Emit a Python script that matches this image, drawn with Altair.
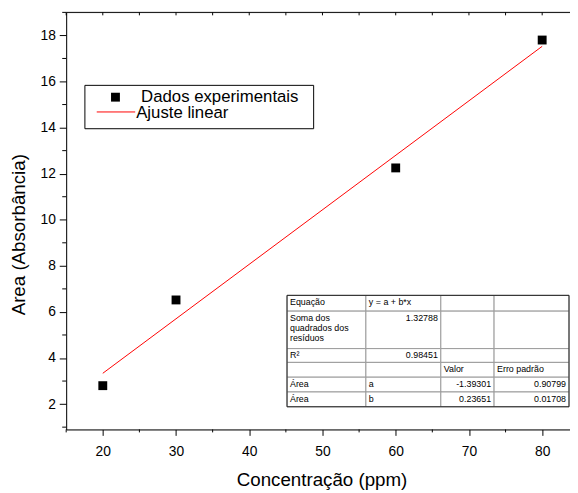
import altair as alt
import pandas as pd

# ---------------- data ----------------
conc = [20, 30, 60, 80]
area = [2.8, 6.52, 12.25, 17.8]
fit_a = -1.39301
fit_b = 0.23651

x_major = [20, 30, 40, 50, 60, 70, 80]
x_minor = [15, 25, 35, 45, 55, 65, 75]
y_major = [2, 4, 6, 8, 10, 12, 14, 16, 18]
y_minor = [1, 3, 5, 7, 9, 11, 13, 15, 17, 19]

legend_labels = ["Dados experimentais", "Ajuste linear"]

table_rows = [
    ["Equação", "y = a + b*x", "", ""],
    ["Soma dos\nquadrados dos\nresíduos", "1.32788", "", ""],
    ["R²", "0.98451", "", ""],
    ["", "", "Valor", "Erro padrão"],
    ["Área", "a", "-1.39301", "0.90799"],
    ["Área", "b", "0.23651", "0.01708"],
]

# ---------------- layout ----------------
W, H = 511, 423
X0, Y0 = 67, 9            # plot-area origin in page pixels
FONT = "Liberation Sans"

col_edges = [291, 371, 447, 501, 577]
row_edges = [296, 312, 350, 364, 379, 394, 409]

one = pd.DataFrame({"k": [0]})


def is_num(s):
    try:
        float(s)
        return True
    except ValueError:
        return False


table_layers = []
for r, row in enumerate(table_rows):
    for c, txt in enumerate(row):
        x0, x1 = col_edges[c] - X0, col_edges[c + 1] - X0
        y0, y1 = row_edges[r] - Y0, row_edges[r + 1] - Y0
        table_layers.append(
            alt.Chart(one).mark_rect(fill="white", stroke="#9a9a9a", strokeWidth=1).encode(
                x=alt.value(x0), x2=alt.value(x1), y=alt.value(y0), y2=alt.value(y1)
            )
        )
outer = alt.Chart(one).mark_rect(fill="transparent", stroke="#222222", strokeWidth=1).encode(
    x=alt.value(col_edges[0] - X0), x2=alt.value(col_edges[-1] - X0),
    y=alt.value(row_edges[0] - Y0), y2=alt.value(row_edges[-1] - Y0),
)
table_layers.append(outer)
for r, row in enumerate(table_rows):
    for c, txt in enumerate(row):
        if not txt:
            continue
        x0, x1 = col_edges[c] - X0, col_edges[c + 1] - X0
        y0 = row_edges[r] - Y0
        num = is_num(txt)
        for i, ln in enumerate(txt.split("\n")):
            table_layers.append(
                alt.Chart(one).mark_text(
                    text=ln, align="right" if num else "left", baseline="top",
                    fontSize=9, font=FONT, color="black",
                ).encode(
                    x=alt.value((x1 - 3) if num else (x0 + 3)),
                    y=alt.value(y0 + 3 + 10 * i),
                )
            )

pts = pd.DataFrame({"conc": conc, "area": area})
fit_df = pd.DataFrame({"conc": [min(conc), max(conc)]})

xscale = alt.Scale(domain=[15, 83.8], nice=False, zero=False)
yscale = alt.Scale(domain=[0.9, 19.0], nice=False, zero=False)

common = dict(
    grid=False, labelFlush=False, labelOverlap=False,
    labelFontSize=14, titleFontSize=19, titleFontWeight="normal",
    labelFont=FONT, titleFont=FONT,
    domainColor="black", tickColor="black", labelColor="black", titleColor="black",
)
x_axis = alt.Axis(
    values=x_major, title="Concentração (ppm)", tickSize=6,
    labelPadding=9, titlePadding=13, titleX=259, **common,
)
y_axis = alt.Axis(
    values=y_major, title="Area (Absorbância)", tickSize=7,
    labelPadding=4, titlePadding=12, titleY=225, **common,
)

X = alt.X("conc:Q", scale=xscale, axis=x_axis)
Y = alt.Y("area:Q", scale=yscale, axis=y_axis)

points = alt.Chart(pts).mark_square(size=81, color="black", opacity=1).encode(x=X, y=Y)

fit = alt.Chart(fit_df).transform_calculate(
    area=f"{fit_a} + {fit_b} * datum.conc"
).mark_line(color="red", strokeWidth=1).encode(x=X, y=Y)

# minor ticks and top-frame ticks
x_minor_ticks = alt.Chart(pd.DataFrame({"conc": x_minor})).mark_rule(
    color="black", strokeWidth=1
).encode(x=X, y=alt.value(H), y2=alt.value(H + 3))
y_minor_ticks = alt.Chart(pd.DataFrame({"area": y_minor})).mark_rule(
    color="black", strokeWidth=1
).encode(y=Y, x=alt.value(-4), x2=alt.value(0))
top_border = alt.Chart(one).mark_rule(color="black", strokeWidth=1).encode(
    x=alt.value(0), x2=alt.value(W), y=alt.value(0)
)
top_ticks = alt.Chart(pd.DataFrame({"conc": x_major + x_minor})).mark_rule(
    color="black", strokeWidth=1
).encode(x=X, y=alt.value(0), y2=alt.value(3))

# ---------------- legend ----------------
leg_box = alt.Chart(one).mark_rect(fill="white", stroke="black", strokeWidth=1).encode(
    x=alt.value(86 - X0), x2=alt.value(318 - X0),
    y=alt.value(83 - Y0), y2=alt.value(127 - Y0),
)
leg_sq = alt.Chart(one).mark_square(size=81, color="black", opacity=1).encode(
    x=alt.value(117 - X0), y=alt.value(95 - Y0)
)
leg_line = alt.Chart(one).mark_rule(color="red", strokeWidth=1).encode(
    x=alt.value(98 - X0), x2=alt.value(137 - X0), y=alt.value(110 - Y0)
)
leg_t1 = alt.Chart(one).mark_text(
    text=legend_labels[0], align="left", baseline="middle",
    fontSize=17, font=FONT, color="black"
).encode(x=alt.value(143 - X0), y=alt.value(95 - Y0))
leg_t2 = alt.Chart(one).mark_text(
    text=legend_labels[1], align="left", baseline="middle",
    fontSize=17, font=FONT, color="black"
).encode(x=alt.value(138 - X0), y=alt.value(111 - Y0))

chart = alt.layer(
    points, fit, x_minor_ticks, y_minor_ticks, top_border, top_ticks,
    leg_box, leg_sq, leg_line, leg_t1, leg_t2, *table_layers,
).properties(
    width=W, height=H,
    autosize=alt.AutoSizeParams(type="none"),
    padding={"left": X0 - 8, "top": Y0 - 8, "right": 0, "bottom": 60},
).configure_view(
    stroke="transparent"
).configure(background="white")

chart.save("out.html", embed_options={"renderer": "svg", "actions": False})
